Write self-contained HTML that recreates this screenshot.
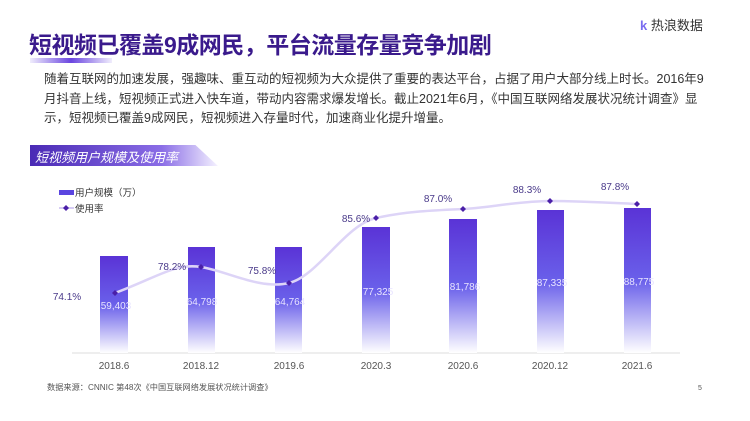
<!DOCTYPE html>
<html><head><meta charset="utf-8"><style>
body{margin:0;width:750px;height:421px;overflow:hidden;background:#fff;font-family:"Liberation Sans","Noto Sans CJK SC",sans-serif;position:relative}
.t{position:absolute;white-space:nowrap}
</style></head><body>
<div class="t" style="left:29px;top:26px;font-size:23px;font-weight:bold;color:#3a1a8c;letter-spacing:-0.5px">短视频已覆盖9成网民，平台流量存量竞争加剧</div>
<div style="position:absolute;left:30px;top:58px;width:82px;height:5px;background:linear-gradient(90deg,rgba(110,80,230,0.1),#6a45e0 50%,rgba(110,80,230,0.1))"></div>
<div class="t" style="left:640px;top:15px;font-size:13px;color:#333"><span style="color:#7a6cf0;font-weight:bold">k</span> 热浪数据</div>
<div style="position:absolute;left:44px;top:70px;width:660px;font-size:12.5px;line-height:19.5px;color:#333">随着互联网的加速发展，强趣味、重互动的短视频为大众提供了重要的表达平台，占据了用户大部分线上时长。2016年9月抖音上线，短视频正式进入快车道，带动内容需求爆发增长。截止2021年6月，《中国互联网络发展状况统计调查》显示，短视频已覆盖9成网民，短视频进入存量时代，加速商业化提升增量。</div>
<div style="position:absolute;left:30px;top:145px;width:188px;height:21px;background:linear-gradient(90deg,#4a2ab5,#8a6de6 70%,rgba(220,210,255,0.3));clip-path:polygon(0 0,88% 0,100% 100%,0 100%)"></div>
<div class="t" style="left:35px;top:147px;font-size:13px;color:#fff;font-style:italic">短视频用户规模及使用率</div>
<svg style="position:absolute;left:0;top:0" width="750" height="421">
<defs><linearGradient id="g" x1="0" y1="0" x2="0" y2="1"><stop offset="0" stop-color="#5a33d6"/><stop offset="0.5" stop-color="#6a60ea"/><stop offset="1" stop-color="#fff"/></linearGradient></defs>
<line x1="72" y1="353" x2="680" y2="353" stroke="#ddd"/>
<g fill="url(#g)">
<rect x="100" y="256" width="28" height="97"/><rect x="188" y="247" width="27" height="106"/><rect x="275" y="247" width="27" height="106"/><rect x="362" y="227" width="28" height="126"/><rect x="449" y="219" width="28" height="134"/><rect x="537" y="210" width="27" height="143"/><rect x="624" y="208" width="27" height="145"/>
</g>
<g font-size="10" fill="#e8e4ff" text-anchor="middle">
<text x="116" y="309">59,403</text><text x="202" y="305">64,798</text><text x="290" y="305">64,764</text><text x="378" y="295">77,325</text><text x="465" y="290">81,786</text><text x="552" y="286">87,335</text><text x="639" y="285">88,775</text>
</g>
<path d="M115,293 C160,276 175,263 201,267 S260,290 289,283 S345,225 376,218 S440,210 463,209 S520,201 550,201 S615,203 637,204" fill="none" stroke="#ddd4f7" stroke-width="2.5"/>
<g fill="#4a1fa8">
<path d="M115,290l3,3l-3,3l-3,-3z"/><path d="M201,264l3,3l-3,3l-3,-3z"/><path d="M289,280l3,3l-3,3l-3,-3z"/><path d="M376,215l3,3l-3,3l-3,-3z"/><path d="M463,206l3,3l-3,3l-3,-3z"/><path d="M550,198l3,3l-3,3l-3,-3z"/><path d="M637,201l3,3l-3,3l-3,-3z"/>
</g>
<g font-size="10" fill="#4a3a8a" text-anchor="middle">
<text x="67" y="300">74.1%</text><text x="172" y="270">78.2%</text><text x="262" y="274">75.8%</text><text x="356" y="222">85.6%</text><text x="438" y="202">87.0%</text><text x="527" y="193">88.3%</text><text x="615" y="190">87.8%</text>
</g>
<g font-size="10" fill="#555" text-anchor="middle">
<text x="114" y="369">2018.6</text><text x="201" y="369">2018.12</text><text x="289" y="369">2019.6</text><text x="376" y="369">2020.3</text><text x="463" y="369">2020.6</text><text x="550" y="369">2020.12</text><text x="637" y="369">2021.6</text>
</g>
<rect x="59" y="190" width="15" height="5" fill="#5a45e0"/>
<text x="75" y="196" font-size="9.5" fill="#333">用户规模（万）</text>
<line x1="59" y1="208" x2="74" y2="208" stroke="#d6ccf5" stroke-width="2"/>
<path d="M66,205l3,3l-3,3l-3,-3z" fill="#4a1fa8"/>
<text x="75" y="212" font-size="9.5" fill="#333">使用率</text>
<text x="47" y="390" font-size="8.2" fill="#555">数据来源：CNNIC  第48次《中国互联网络发展状况统计调查》</text>
<text x="698" y="390" font-size="7" fill="#555">5</text>
</svg>
</body></html>
